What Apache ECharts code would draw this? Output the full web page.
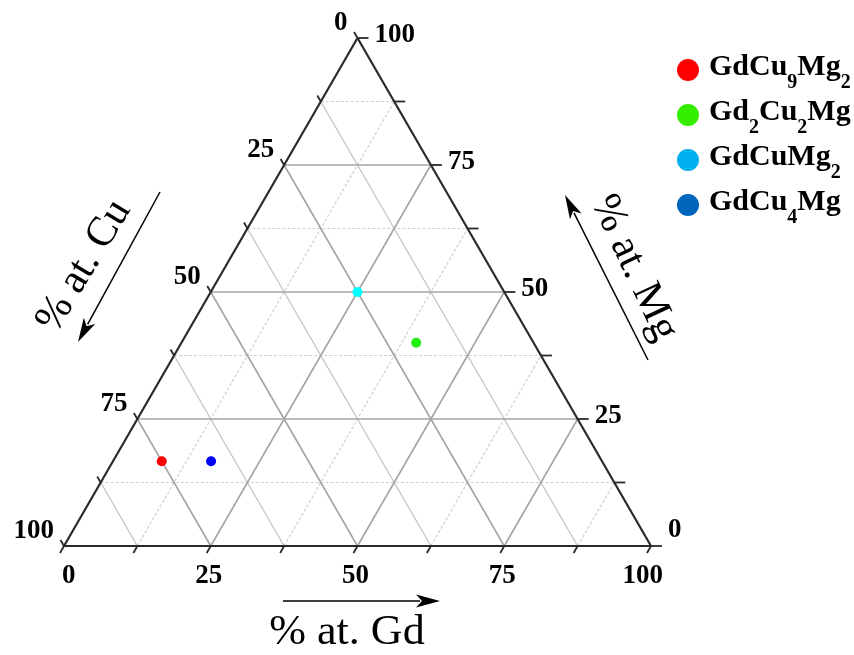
<!DOCTYPE html>
<html><head><meta charset="utf-8">
<script src="https://cdn.jsdelivr.net/npm/echarts@6/dist/echarts.min.js"></script>
<style>html,body{margin:0;padding:0;background:#fff}#c{width:854px;height:655px}</style>
</head><body><div id="c"></div>
<script>
// ---- data ----
const compounds = ['GdCu9Mg2', 'Gd2Cu2Mg', 'GdCuMg2', 'GdCu4Mg'];
const gdPct = [8.3, 40, 25, 16.7];
const cuPct = [75, 20, 25, 66.6];
const mgPct = [16.7, 40, 50, 16.7];
const pointColors = ['#ff0000', '#22ee11', '#00ffff', '#0000ff'];
const legendColors = ['#ff0000', '#33ee00', '#00b0f0', '#0066bb'];
const majorTicks = [0, 25, 50, 75, 100];
const minorTicks = [12.5, 37.5, 62.5, 87.5];
const tickLabels = ['0', '25', '50', '75', '100'];
const axisTitles = ['% at. Gd', '% at. Cu', '% at. Mg'];

// ---- helpers ----
const SQ = Math.sqrt(3) / 2;
function tern(gd, mg) { return [gd + mg / 2, mg * SQ]; }
const SERIF = '"Liberation Serif", "DejaVu Serif", serif';

// grid lines: [x1,y1,x2,y2,kind] kind 0 edge,1 major,2 minor solid,3 minor dashed
const gridData = [];
const allVals = majorTicks.concat(minorTicks).filter(v => v > 0 && v < 100);
allVals.forEach(v => {
  const major = majorTicks.indexOf(v) >= 0;
  const a1 = tern(0, v), a2 = tern(100 - v, v);          // constant Mg
  gridData.push([a1[0], a1[1], a2[0], a2[1], major ? 1 : 3]);
  const b1 = tern(v, 0), b2 = tern(v, 100 - v);          // constant Gd
  gridData.push([b1[0], b1[1], b2[0], b2[1], major ? 1 : 3]);
  const c1 = tern(100 - v, 0), c2 = tern(0, 100 - v);    // constant Cu
  gridData.push([c1[0], c1[1], c2[0], c2[1], major ? 1 : 2]);
});
const A = tern(0, 0), B = tern(100, 0), C = tern(0, 100);
gridData.push([A[0], A[1], B[0], B[1], 0]);
gridData.push([B[0], B[1], C[0], C[1], 0]);
gridData.push([C[0], C[1], A[0], A[1], 0]);

// ticks: [x,y,axis,labelIndex]; axis 0 Gd(bottom),1 Cu(left),2 Mg(right)
const tickData = [];
const tickVals = majorTicks.concat(minorTicks).sort((a, b) => a - b);
tickVals.forEach(v => {
  const li = majorTicks.indexOf(v);
  const g = tern(v, 0); tickData.push([g[0], g[1], 0, li]);
  const c = tern(0, 100 - v); tickData.push([c[0], c[1], 1, li]);
  const m = tern(100 - v, v); tickData.push([m[0], m[1], 2, li]);
});

const gridStyles = [
  { stroke: '#2a2a2a', lineWidth: 2.2 },
  { stroke: '#a4a4a4', lineWidth: 1.6 },
  { stroke: '#c4c4c4', lineWidth: 1.3 },
  { stroke: '#d0d0d0', lineWidth: 1.2, lineDash: [3, 2] }
];

const chart = echarts.init(document.getElementById('c'), null, { renderer: 'canvas' });

const scatterSeries = compounds.map((name, i) => {
  const p = tern(gdPct[i], mgPct[i]);
  return {
    type: 'scatter', name: name, z: 5,
    symbol: 'circle', symbolSize: 10,
    itemStyle: { color: pointColors[i], opacity: 1 },
    data: [[p[0], p[1], cuPct[i]]]
  };
});

function richName(name) {
  return '{n|' + name.replace(/(\d+)/g, '}{s|$1}{n|') + '}';
}

function arrow(x1, y1, x2, y2) {
  const dx = x2 - x1, dy = y2 - y1, L = Math.hypot(dx, dy);
  const ux = dx / L, uy = dy / L, px = -uy, py = ux;
  const hl = 24, hw = 6.5;
  const bx = x2 - ux * hl, by = y2 - uy * hl;
  return {
    type: 'group', children: [
      { type: 'line', shape: { x1: x1, y1: y1, x2: bx + ux * 4, y2: by + uy * 4 }, style: { stroke: '#000', lineWidth: 1.5 } },
      { type: 'polygon', shape: { points: [[x2, y2], [bx + px * hw, by + py * hw], [bx + ux * 6, by + uy * 6], [bx - px * hw, by - py * hw]] }, style: { fill: '#000' } }
    ]
  };
}

const option = {
  animation: false,
  backgroundColor: '#fff',
  grid: { left: 64, top: 38, width: 587, height: 508 },
  xAxis: { type: 'value', min: 0, max: 100, show: false },
  yAxis: { type: 'value', min: 0, max: 100 * SQ, show: false },
  legend: {
    orient: 'vertical', left: 672, top: 47,
    itemWidth: 22, itemHeight: 22, itemGap: 4,
    selectedMode: false,
    data: compounds.map((n, i) => ({ name: n, icon: 'circle', itemStyle: { color: legendColors[i], opacity: 1 } })),
    formatter: richName,
    textStyle: {
      padding: [0, 0, 0, 5],
      rich: {
        n: { fontFamily: SERIF, fontWeight: 'bold', fontSize: 30, lineHeight: 36, color: '#000', verticalAlign: 'top' },
        s: { fontFamily: SERIF, fontWeight: 'bold', fontSize: 20, lineHeight: 20, color: '#000', verticalAlign: 'top', padding: [21, 0, 0, 0] }
      }
    }
  },
  graphic: [
    { type: 'text', x: 347, y: 633, scaleX: 1.05, style: { text: axisTitles[0], fontFamily: SERIF, fontSize: 42, fill: '#000', align: 'center', verticalAlign: 'middle' } },
    { type: 'text', x: 84, y: 266, rotation: 59 * Math.PI / 180, style: { text: axisTitles[1], fontFamily: SERIF, fontSize: 42, fill: '#000', align: 'center', verticalAlign: 'middle' } },
    { type: 'text', x: 634, y: 268, rotation: -65 * Math.PI / 180, style: { text: axisTitles[2], fontFamily: SERIF, fontSize: 42, fill: '#000', align: 'center', verticalAlign: 'middle' } },
    arrow(283, 601, 440, 601),
    arrow(160, 192, 78, 342),
    arrow(648, 360, 565, 195)
  ],
  series: [
    {
      type: 'custom', name: 'grid', z: 1, silent: true,
      encode: { x: [0, 2], y: [1, 3] },
      data: gridData,
      renderItem: function (params, api) {
        const p1 = api.coord([api.value(0), api.value(1)]);
        const p2 = api.coord([api.value(2), api.value(3)]);
        const k = api.value(4);
        return { type: 'line', z2: k === 0 ? 10 : (k === 1 ? 5 : 1), shape: { x1: p1[0], y1: p1[1], x2: p2[0], y2: p2[1] }, style: gridStyles[k] };
      }
    },
    {
      type: 'custom', name: 'ticks', z: 2, silent: true,
      encode: { x: 0, y: 1 },
      data: tickData,
      renderItem: function (params, api) {
        const p = api.coord([api.value(0), api.value(1)]);
        const ax = api.value(2), li = api.value(3);
        const dirs = [[-0.5, 0.866], [-0.5, -0.866], [1, 0]];
        const lens = [8, 7, 11];
        const d = dirs[ax], len = lens[ax];
        const children = [{ type: 'line', shape: { x1: p[0], y1: p[1], x2: p[0] + d[0] * len, y2: p[1] + d[1] * len }, style: { stroke: '#2a2a2a', lineWidth: 1.8 } }];
        if (li >= 0) {
          let x, y, align = 'center';
          if (ax === 0) {
            x = p[0] - 2; y = p[1] + 30;
            if (li === 0) { align = 'left'; x = p[0] - 2; }
            if (li === majorTicks.length - 1) { align = 'right'; x = p[0] + 12; }
          } else if (ax === 1) {
            align = 'right'; x = p[0] - 10; y = p[1] - 15;
          } else {
            align = 'left'; x = p[0] + 17; y = p[1] - (li === 0 ? 16 : 3);
          }
          children.push({ type: 'text', x: x, y: y, style: { text: tickLabels[li], fontFamily: SERIF, fontWeight: 'bold', fontSize: 27, fill: '#000', align: align, verticalAlign: 'middle' } });
        }
        return { type: 'group', children: children };
      }
    }
  ].concat(scatterSeries)
};
chart.setOption(option);
</script>
</body></html>
